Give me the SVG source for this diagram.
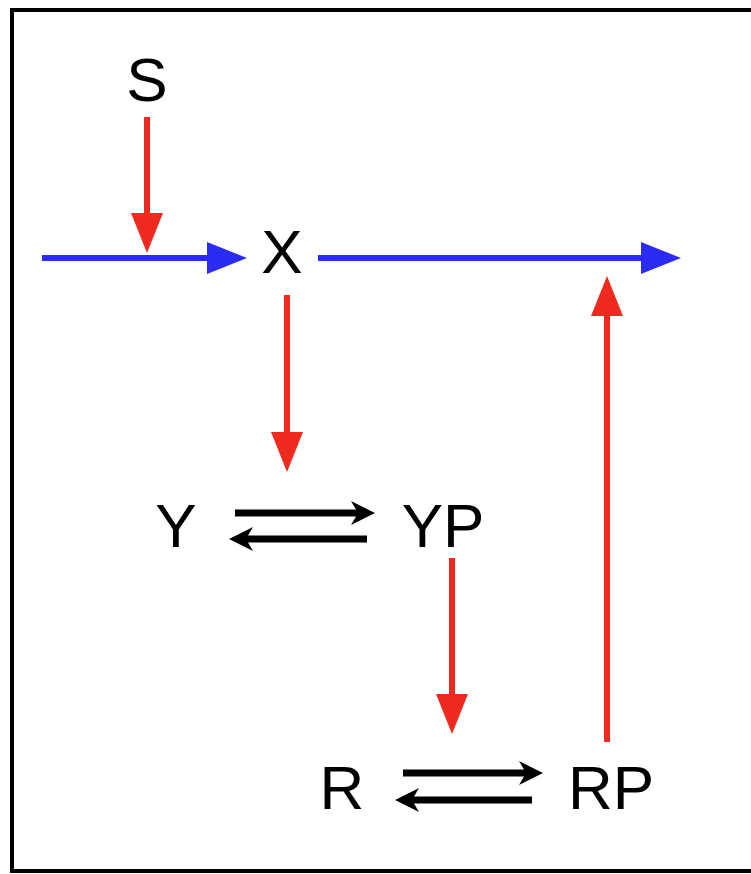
<svg xmlns="http://www.w3.org/2000/svg" width="751" height="874" viewBox="0 0 751 874">
<defs>
<style>
.lbl{font-family:"Liberation Sans",Arial,sans-serif;font-size:62px;fill:#000;text-anchor:middle}
.red{stroke:#ee2a1e;stroke-width:6;fill:none}
.blue{stroke:#2b2bf2;stroke-width:6;fill:none}
.blk{stroke:#000;stroke-width:7;fill:none}
</style>
<marker id="hr" markerUnits="userSpaceOnUse" markerWidth="40" markerHeight="32" viewBox="0 0 40 32" refX="0" refY="16" orient="auto"><path d="M0,0 L40,16 L0,32 Z" fill="#ee2a1e"/></marker>
<marker id="hb" markerUnits="userSpaceOnUse" markerWidth="40" markerHeight="32" viewBox="0 0 40 32" refX="0" refY="16" orient="auto"><path d="M0,0 L40,16 L0,32 Z" fill="#2b2bf2"/></marker>
<marker id="hk" markerUnits="userSpaceOnUse" markerWidth="24" markerHeight="24" viewBox="0 0 24 24" refX="9" refY="12" orient="auto"><path d="M0,0 L24,12 L0,24 L7,12 Z" fill="#000"/></marker>
</defs>
<rect x="12" y="10" width="745" height="861" fill="#fff" stroke="#000" stroke-width="4"/>
<g id="connectors">
<line class="blue" x1="42" y1="258" x2="207" y2="258" marker-end="url(#hb)"/>
<line class="blue" x1="318" y1="258" x2="641" y2="258" marker-end="url(#hb)"/>
<line class="red" x1="147" y1="117" x2="147" y2="213" marker-end="url(#hr)"/>
<line class="red" x1="287" y1="295" x2="287" y2="432" marker-end="url(#hr)"/>
<line class="red" x1="452" y1="558" x2="452" y2="694" marker-end="url(#hr)"/>
<line class="red" x1="607" y1="742" x2="607" y2="316" marker-end="url(#hr)"/>
<line class="blk" x1="235" y1="513" x2="360" y2="513" marker-end="url(#hk)"/>
<line class="blk" x1="367" y1="539" x2="244" y2="539" marker-end="url(#hk)"/>
<line class="blk" x1="403" y1="773" x2="528" y2="773" marker-end="url(#hk)"/>
<line class="blk" x1="532" y1="800" x2="410" y2="800" marker-end="url(#hk)"/>
</g>
<g id="S"><text class="lbl" x="147" y="101">S</text></g>
<g id="X"><text class="lbl" x="282" y="273">X</text></g>
<g id="Y"><text class="lbl" x="176" y="547">Y</text></g>
<g id="YP"><text class="lbl" x="443" y="547">YP</text></g>
<g id="R"><text class="lbl" x="342" y="809">R</text></g>
<g id="RP"><text class="lbl" x="611" y="809">RP</text></g>
</svg>
